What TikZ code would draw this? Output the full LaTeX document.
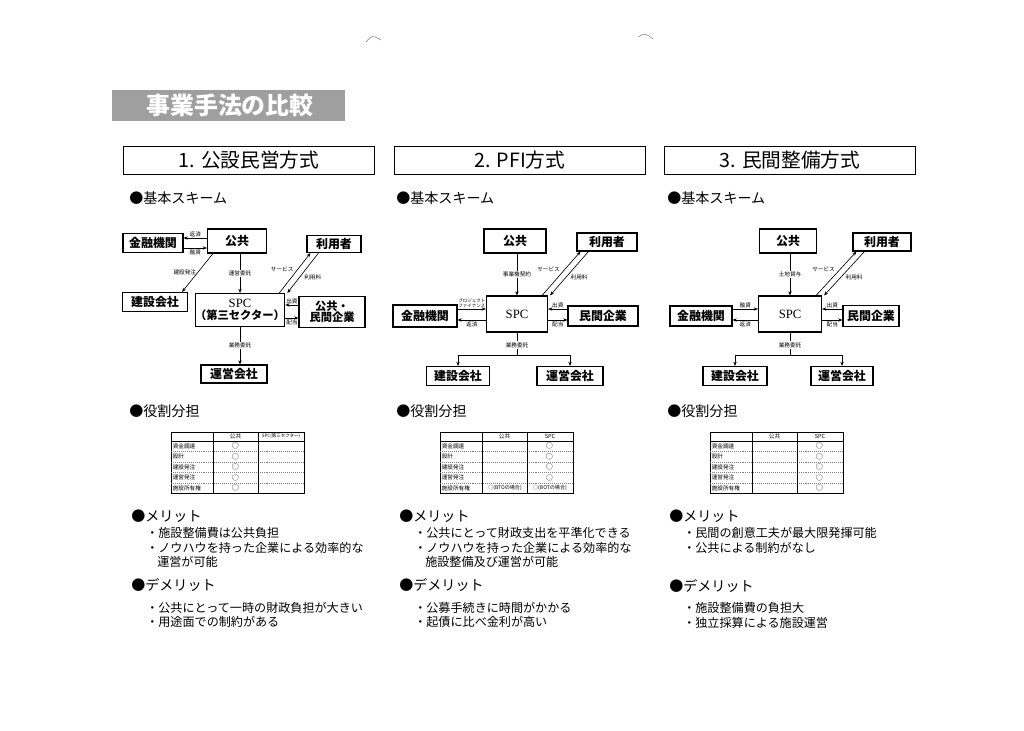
\documentclass[tikz,border=0pt]{standalone}
\usepackage{fontspec}
\setmainfont{Noto Sans CJK JP}
\newfontfamily\spcfont{Liberation Serif}
\usetikzlibrary{arrows.meta}
\newcommand\setfs[1]{\fontsize{#1}{#1}\selectfont}
\begin{document}
\begin{tikzpicture}[x=0.025cm, y=-0.025cm,
   box/.style={draw, line width=0.8pt, inner sep=0pt, fill=white, align=center, font=\setfs{8.5}\bfseries},
   lbl/.style={inner sep=0.8pt, font=\setfs{4}},
   arr/.style={line width=0.45pt, -{Stealth[length=3pt,width=2.4pt]}},
   titlebox/.style={draw, line width=0.6pt, minimum width=6.275cm, minimum height=0.7cm, font=\setfs{14}},
   head/.style={anchor=west, inner sep=0pt, font=\setfs{10}},
   txt/.style={anchor=west, inner sep=0pt, font=\setfs{8.6}},
   cell/.style={inner sep=0pt, font=\setfs{4}}]
    \useasboundingbox (0,0) rectangle (1024,730);
    % stray marks of the scan
    \draw[gray, line width=0.4pt] (366,42) .. controls (372,35) .. (381,40);
    \draw[gray, line width=0.4pt] (638,37) .. controls (645,33) .. (653,39);
    % title
    \fill[gray!75] (112,90) rectangle (345,121);
    \node[text=white, font=\setfs{17}\bfseries] (ttl) at (230,105) {事業手法の比較};
    \node[titlebox] (h1) at (249,160) {1. 公設民営方式};
    \node[titlebox] (h2) at (520,160) {2. PFI方式};
    \node[titlebox] (h3) at (790,160) {3. 民間整備方式};
    \node[head] (s1) at (129,198) {●基本スキーム};
    \node[head] (s2) at (396,198) {●基本スキーム};
    \node[head] (s3) at (667,198) {●基本スキーム};

    % 1. scheme
    \node[box, minimum width=1.5cm, minimum height=0.475cm] (kin1) at (153,243) {金融機関};
    \node[box, minimum width=1.475cm, minimum height=0.6cm] (ko1) at (237,241) {公共};
    \node[box, minimum width=1.35cm, minimum height=0.425cm] (ri1) at (334,244) {利用者};
    \node[box, minimum width=1.625cm, minimum height=0.475cm] (ken1) at (155,302) {建設会社};
    \node[box, minimum width=1.925cm, minimum height=0.825cm, font=\setfs{8}\bfseries] (spc1) at (240,310)
       {{\spcfont\mdseries\setfs{9}SPC}\\（第三セクター）};
    \node[box, minimum width=1.65cm, minimum height=0.775cm, font=\setfs{8}\bfseries] (min1) at (332,312) {公共・\\民間企業};
    \node[box, minimum width=1.65cm, minimum height=0.45cm] (un1) at (234,374) {運営会社};
    \draw[arr] (ko1.west |- 0,238) -- (kin1.east |- 0,238) node[lbl, midway, above] {返済};
    \draw[arr] (kin1.east |- 0,248) -- (ko1.west |- 0,248) node[lbl, midway, below] {融資};
    \draw[arr] ([xshift=0.15cm]ko1.south west) -- ([xshift=-0.15cm]ken1.north east) node[lbl, midway, left] {建設発注};
    \draw[arr] (ko1.south -| spc1.north) -- (spc1.north) node[lbl, midway, fill=white] {運営委託};
    \draw[arr] ([xshift=-0.15cm]spc1.north east) -- ([xshift=0.1cm]ri1.south west) node[lbl, midway, above left] {サービス};
    \draw[arr] ([xshift=0.3cm]ri1.south west) -- ([xshift=0.05cm]spc1.north east) node[lbl, midway, below right] {利用料};
    \draw[arr] (min1.west |- 0,305) -- (spc1.east |- 0,305) node[lbl, midway, above] {出資};
    \draw[arr] (spc1.east |- 0,318) -- (min1.west |- 0,318) node[lbl, midway, below] {配当};
    \draw[arr] (spc1.south) -- (un1.north -| spc1.south) node[lbl, midway, fill=white] {業務委託};

    % 2. scheme
    \node[box, minimum width=1.55cm, minimum height=0.6cm] (ko2) at (515,241) {公共};
    \node[box, minimum width=1.5cm, minimum height=0.45cm] (ri2) at (607,242) {利用者};
    \node[box, minimum width=1.6cm, minimum height=0.55cm] (kin2) at (425,316) {金融機関};
    \node[box, minimum width=1.525cm, minimum height=0.9cm, font=\spcfont\setfs{9}] (spc2) at (517,314) {SPC};
    \node[box, minimum width=1.75cm, minimum height=0.5cm] (min2) at (603,316) {民間企業};
    \node[box, minimum width=1.575cm, minimum height=0.475cm] (ken2) at (458,376) {建設会社};
    \node[box, minimum width=1.65cm, minimum height=0.475cm] (un2) at (570,376) {運営会社};
    \draw[arr] (ko2.south -| spc2.north) -- (spc2.north) node[lbl, midway, fill=white] {事業権契約};
    \draw[arr] ([xshift=-0.15cm]spc2.north east) -- ([xshift=0.1cm]ri2.south west) node[lbl, midway, above left] {サービス};
    \draw[arr] ([xshift=0.3cm]ri2.south west) -- ([xshift=0.05cm]spc2.north east) node[lbl, midway, below right] {利用料};
    \draw[arr] (kin2.east |- 0,309) -- (spc2.west |- 0,309) node[lbl, midway, above, align=center, font=\setfs{3.2}] {プロジェクト\\ファイナンス};
    \draw[arr] (spc2.west |- 0,320) -- (kin2.east |- 0,320) node[lbl, midway, below] {返済};
    \draw[arr] (min2.west |- 0,309) -- (spc2.east |- 0,309) node[lbl, midway, above] {出資};
    \draw[arr] (spc2.east |- 0,320) -- (min2.west |- 0,320) node[lbl, midway, below] {配当};
    \draw (spc2.south) -- (spc2.south |- 0,355) coordinate (br2) node[lbl, pos=0.55, fill=white] {業務委託};
    \draw[arr] (br2) -| (ken2.north);
    \draw[arr] (br2) -| (un2.north);

    % 3. scheme
    \node[box, minimum width=1.425cm, minimum height=0.6cm] (ko3) at (788,241) {公共};
    \node[box, minimum width=1.45cm, minimum height=0.45cm] (ri3) at (882,242) {利用者};
    \node[box, minimum width=1.55cm, minimum height=0.5cm] (kin3) at (701,316) {金融機関};
    \node[box, minimum width=1.575cm, minimum height=0.9cm, font=\spcfont\setfs{9}] (spc3) at (790,314) {SPC};
    \node[box, minimum width=1.4cm, minimum height=0.525cm] (min3) at (871,316) {民間企業};
    \node[box, minimum width=1.6cm, minimum height=0.475cm] (ken3) at (735,376) {建設会社};
    \node[box, minimum width=1.55cm, minimum height=0.475cm] (un3) at (842,376) {運営会社};
    \draw[arr] (ko3.south -| spc3.north) -- (spc3.north) node[lbl, midway, fill=white] {土地貸与};
    \draw[arr] ([xshift=-0.15cm]spc3.north east) -- ([xshift=0.1cm]ri3.south west) node[lbl, midway, above left] {サービス};
    \draw[arr] ([xshift=0.3cm]ri3.south west) -- ([xshift=0.05cm]spc3.north east) node[lbl, midway, below right] {利用料};
    \draw[arr] (kin3.east |- 0,309) -- (spc3.west |- 0,309) node[lbl, midway, above] {融資};
    \draw[arr] (spc3.west |- 0,320) -- (kin3.east |- 0,320) node[lbl, midway, below] {返済};
    \draw[arr] (min3.west |- 0,309) -- (spc3.east |- 0,309) node[lbl, midway, above] {出資};
    \draw[arr] (spc3.east |- 0,320) -- (min3.west |- 0,320) node[lbl, midway, below] {配当};
    \draw (spc3.south) -- (spc3.south |- 0,355) coordinate (br3) node[lbl, pos=0.55, fill=white] {業務委託};
    \draw[arr] (br3) -| (ken3.north);
    \draw[arr] (br3) -| (un3.north);

    % role tables
    \node[head] (y1) at (129,411) {●役割分担};
    \node[head] (y2) at (396,411) {●役割分担};
    \node[head] (y3) at (667,411) {●役割分担};
    \foreach \tx in {171,440,710} {
      \draw[line width=0.6pt] (\tx,432) rectangle (\tx+133,493);
      \draw[line width=0.5pt] (\tx,441) -- (\tx+133,441);
      \draw[gray, densely dotted, line width=0.4pt] (\tx,451) -- (\tx+133,451) (\tx,462) -- (\tx+133,462)
         (\tx,472) -- (\tx+133,472) (\tx,483) -- (\tx+133,483);
      \draw[line width=0.4pt] (\tx+42,432) -- (\tx+42,493) (\tx+87,432) -- (\tx+87,493);
      \node[cell] (c\tx) at (\tx+64.5,436.5) {公共};
      \foreach \lab/\yy [count=\i] in {資金調達/446, 設計/456.5, 建設発注/467, 運営発注/477.5, 施設所有権/488}
        \node[cell, anchor=west] (r\tx-\i) at (\tx+1.5,\yy) {\lab};
    }
    \node[cell, font=\setfs{3.2}] (p1) at (281,436.5) {SPC(第三セクター)};
    \node[cell] (p2) at (550,436.5) {SPC};
    \node[cell] (p3) at (820,436.5) {SPC};
    \foreach \yy [count=\i] in {446,456.5,467,477.5,488} {
      \node[cell, font=\setfs{5}] (a\i) at (235.5,\yy) {○};
      \node[cell, font=\setfs{5}] (e\i) at (819.5,\yy) {○};
    }
    \foreach \yy [count=\i] in {446,456.5,467,477.5}
      \node[cell, font=\setfs{5}] (b\i) at (549.5,\yy) {○};
    \node[cell, font=\setfs{3.6}] (b5) at (505,488) {○(BTOの場合)};
    \node[cell, font=\setfs{3.6}] (b6) at (550,488) {○(BOTの場合)};

    % merits and demerits
    \node[head] (m1) at (131,516) {●メリット};
    \node[txt] (m1a) at (146,533) {・施設整備費は公共負担};
    \node[txt] (m1b) at (146,548) {・ノウハウを持った企業による効率的な};
    \node[txt] (m1c) at (157,562) {運営が可能};
    \node[head] (d1) at (131,585) {●デメリット};
    \node[txt] (d1a) at (146,608) {・公共にとって一時の財政負担が大きい};
    \node[txt] (d1b) at (146,622) {・用途面での制約がある};

    \node[head] (m2) at (399,516) {●メリット};
    \node[txt] (m2a) at (414,533) {・公共にとって財政支出を平準化できる};
    \node[txt] (m2b) at (414,548) {・ノウハウを持った企業による効率的な};
    \node[txt] (m2c) at (425,562) {施設整備及び運営が可能};
    \node[head] (d2) at (399,585) {●デメリット};
    \node[txt] (d2a) at (414,608) {・公募手続きに時間がかかる};
    \node[txt] (d2b) at (414,622) {・起債に比べ金利が高い};

    \node[head] (m3) at (669,516) {●メリット};
    \node[txt] (m3a) at (683,533) {・民間の創意工夫が最大限発揮可能};
    \node[txt] (m3b) at (683,548) {・公共による制約がなし};
    \node[head] (d3) at (669,586) {●デメリット};
    \node[txt] (d3a) at (683,608) {・施設整備費の負担大};
    \node[txt] (d3b) at (683,623) {・独立採算による施設運営};
\end{tikzpicture}
\end{document}
